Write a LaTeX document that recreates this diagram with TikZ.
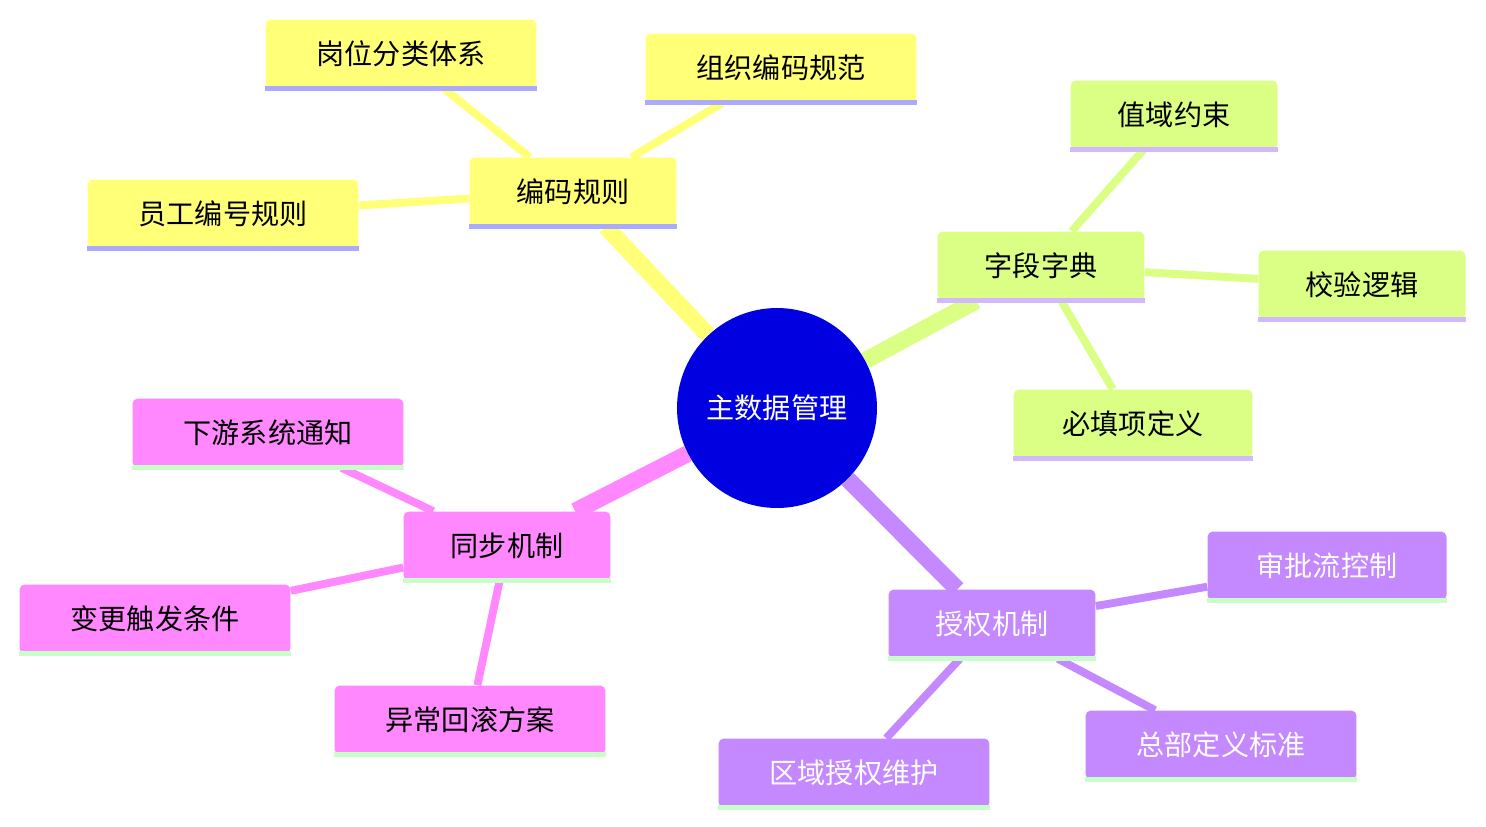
\documentclass[tikz,border=0pt]{standalone}
\usepackage{fontspec}
\setmainfont{Noto Sans CJK SC}
\usetikzlibrary{backgrounds}
\definecolor{yfill}{HTML}{FFFF78}
\definecolor{gfill}{HTML}{DBFF85}
\definecolor{pfill}{HTML}{FF88FF}
\definecolor{vfill}{HTML}{C488FF}
\definecolor{yline}{HTML}{AAAAFF}
\definecolor{gline}{HTML}{D2B8FF}
\definecolor{pline}{HTML}{C8FFC8}
\definecolor{rootblue}{HTML}{0000E0}
\tikzset{
  topic/.style={rectangle, rounded corners=3pt, inner sep=0pt,
    minimum height=1.38cm, font=\fontsize{16}{18}\selectfont},
  yellowbox/.style={topic, fill=yfill},
  greenbox/.style={topic, fill=gfill},
  pinkbox/.style={topic, fill=pfill},
  violetbox/.style={topic, fill=vfill, text=white},
  trunk/.style={line width=9.6pt},
  twig/.style={line width=4.5pt}
}
\begin{document}
\begin{tikzpicture}[x=0.02cm, y=-0.02cm]
    \useasboundingbox (0,0) rectangle (1486,826);

    % Root
    \node[circle, fill=rootblue, text=white, minimum size=4cm, inner sep=0pt,
      font=\fontsize{16}{18}\selectfont] (root) at (777,408) {主数据管理};

    % Coding rules branch
    \node[yellowbox, minimum width=4.14cm] (code) at (573,192) {编码规则};
    \node[yellowbox, minimum width=5.42cm] (post) at (401,54) {岗位分类体系};
    \node[yellowbox, minimum width=5.42cm] (org) at (781,68) {组织编码规范};
    \node[yellowbox, minimum width=5.42cm] (staff) at (223,214) {员工编号规则};

    % Field dictionary branch
    \node[greenbox, minimum width=4.14cm] (dict) at (1041,266) {字段字典};
    \node[greenbox, minimum width=4.14cm] (range) at (1174,115) {值域约束};
    \node[greenbox, minimum width=4.14cm] (check) at (1362,285) {校验逻辑};
    \node[greenbox, minimum width=4.78cm] (must) at (1133,424) {必填项定义};

    % Sync branch
    \node[pinkbox, minimum width=4.14cm] (sync) at (507,546) {同步机制};
    \node[pinkbox, minimum width=5.42cm] (notify) at (268,433) {下游系统通知};
    \node[pinkbox, minimum width=5.42cm] (trigger) at (155,619) {变更触发条件};
    \node[pinkbox, minimum width=5.42cm] (rollback) at (470,720) {异常回滚方案};

    % Authorization branch
    \node[violetbox, minimum width=4.14cm] (auth) at (992,624) {授权机制};
    \node[violetbox, minimum width=4.78cm] (approve) at (1327,566) {审批流控制};
    \node[violetbox, minimum width=5.42cm] (hq) at (1221,745) {总部定义标准};
    \node[violetbox, minimum width=5.42cm] (region) at (854,773) {区域授权维护};

    % Bottom borders
    \foreach \n in {code,post,org,staff}
      \draw[yline, line width=2.8pt] (\n.south west) -- (\n.south east);
    \foreach \n in {dict,range,check,must}
      \draw[gline, line width=2.8pt] (\n.south west) -- (\n.south east);
    \foreach \n in {sync,notify,trigger,rollback,auth,approve,hq,region}
      \draw[pline, line width=2.8pt] (\n.south west) -- (\n.south east);

    % Connectors
    \begin{scope}[on background layer]
      \draw[trunk, yfill] (root) -- (code);
      \draw[trunk, gfill] (root) -- (dict);
      \draw[trunk, pfill] (root) -- (sync);
      \draw[trunk, vfill] (root) -- (auth);
      \foreach \n in {post,org,staff} \draw[twig, yfill] (code) -- (\n);
      \foreach \n in {range,check,must} \draw[twig, gfill] (dict) -- (\n);
      \foreach \n in {notify,trigger,rollback} \draw[twig, pfill] (sync) -- (\n);
      \foreach \n in {approve,hq,region} \draw[twig, vfill] (auth) -- (\n);
    \end{scope}

\end{tikzpicture}
\end{document}
